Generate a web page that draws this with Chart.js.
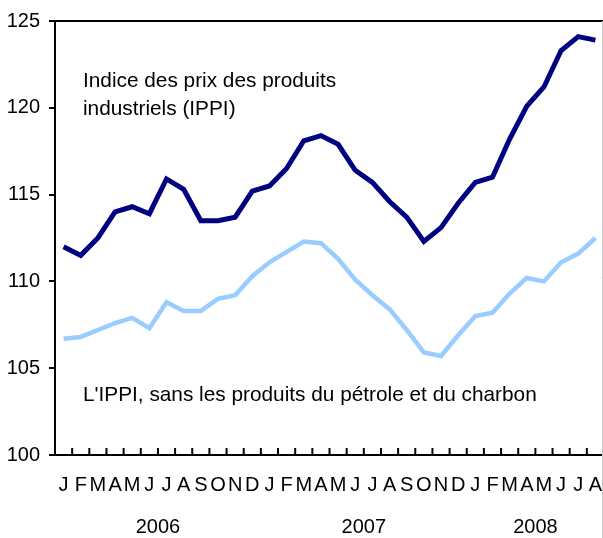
<!DOCTYPE html>
<html>
<head>
<meta charset="utf-8">
<script src="https://cdn.jsdelivr.net/npm/chart.js@4"></script>
<style>
  html, body { margin: 0; padding: 0; background: #fff; overflow: hidden; }
  #wrap { position: relative; width: 603px; height: 538px; overflow: hidden; }
  #chart { display: block; }
</style>
</head>
<body>
<div id="wrap"><canvas id="chart" width="606" height="538"></canvas></div>
<script>
// Mois (janv. 2006 à août 2008)
const months = ["J","F","M","A","M","J","J","A","S","O","N","D",
                "J","F","M","A","M","J","J","A","S","O","N","D",
                "J","F","M","A","M","J","J","A"];
const years = ["2006", "2007", "2008"];
const monthsPerYear = [12, 12, 8];

// IPPI
const ippi = [112.0, 111.5, 112.5, 114.0, 114.3, 113.9, 115.9, 115.3, 113.5, 113.5, 113.7, 115.2,
              115.5, 116.5, 118.1, 118.4, 117.9, 116.4, 115.7, 114.6, 113.7, 112.3, 113.1, 114.5,
              115.7, 116.0, 118.2, 120.1, 121.2, 123.3, 124.1, 123.9];
// IPPI sans pétrole et charbon
const ippiSansPetrole = [106.7, 106.8, 107.2, 107.6, 107.9, 107.3, 108.8, 108.3, 108.3, 109.0, 109.2, 110.3,
                         111.1, 111.7, 112.3, 112.2, 111.3, 110.1, 109.2, 108.4, 107.2, 105.9, 105.7, 106.9,
                         108.0, 108.2, 109.3, 110.2, 110.0, 111.1, 111.6, 112.5];
const yTicks = [100, 105, 110, 115, 120, 125];

const FONT = "'Liberation Sans', Arial, Helvetica, sans-serif";

// ticks vers l'intérieur, bordure du haut, années, libellés
const decor = {
  id: "decor",
  afterDraw(chart) {
    const ctx = chart.ctx;
    const x = chart.scales.x;
    const area = chart.chartArea;
    ctx.save();
    ctx.strokeStyle = "#000";
    ctx.lineWidth = 2;
    // bordure du haut
    ctx.beginPath();
    ctx.moveTo(area.left - 1, area.top);
    ctx.lineTo(area.right, area.top);
    ctx.stroke();
    // petits traits entre les mois
    for (let i = 1; i < months.length; i++) {
      const px = (x.getPixelForValue(i - 1) + x.getPixelForValue(i)) / 2;
      ctx.beginPath();
      ctx.moveTo(px, area.bottom);
      ctx.lineTo(px, area.bottom - 7);
      ctx.stroke();
    }
    // bord droit gris
    ctx.strokeStyle = "#c8c8c8";
    ctx.lineWidth = 1;
    ctx.beginPath();
    ctx.moveTo(602.5, area.top);
    ctx.lineTo(602.5, 538);
    ctx.stroke();

    ctx.fillStyle = "#000";
    ctx.textBaseline = "alphabetic";
    // années
    ctx.font = "20px " + FONT;
    ctx.textAlign = "center";
    let start = 0;
    years.forEach((y, k) => {
      const end = start + monthsPerYear[k] - 1;
      const cx = (x.getPixelForValue(start) + x.getPixelForValue(end)) / 2;
      ctx.fillText(y, cx, area.bottom + 78);
      start = end + 1;
    });
    // libellés des séries
    ctx.font = "20.8px " + FONT;
    ctx.textAlign = "left";
    ctx.fillText("Indice des prix des produits", area.left + 28, 87);
    ctx.fillText("industriels (IPPI)", area.left + 28, 115);
    ctx.fillText("L'IPPI, sans les produits du pétrole et du charbon", area.left + 28, 401);
    ctx.restore();
  }
};

new Chart(document.getElementById("chart"), {
  type: "line",
  data: {
    labels: months,
    datasets: [
      { label: "IPPI", data: ippi, borderColor: "#000080", borderWidth: 5,
        pointRadius: 0, tension: 0, borderJoinStyle: "miter" },
      { label: "IPPI sans pétrole et charbon", data: ippiSansPetrole, borderColor: "#99ccff", borderWidth: 4.5,
        pointRadius: 0, tension: 0, borderJoinStyle: "miter" }
    ]
  },
  options: {
    responsive: false,
    animation: false,
    layout: { padding: { top: 17, right: 2, left: 0, bottom: 0 } },
    plugins: { legend: { display: false }, tooltip: { enabled: false } },
    scales: {
      x: {
        offset: true,
        grid: { display: true, drawOnChartArea: false, drawTicks: false, offset: true },
        border: { color: "#000", width: 2 },
        ticks: { autoSkip: false, maxRotation: 0, color: "#000", padding: 18,
                 font: { family: FONT, size: 20 } },
        afterFit: s => { s.height = 83; s.paddingLeft = 0; s.paddingRight = 0; }
      },
      y: {
        min: 100, max: 125,
        afterBuildTicks: s => { s.ticks = yTicks.map(v => ({ value: v })); },
        grid: { drawOnChartArea: false, tickLength: 6, color: "#000", lineWidth: 2 },
        border: { color: "#000", width: 2 },
        ticks: { color: "#000", padding: 9, font: { family: FONT, size: 20 } },
        afterFit: s => { s.width = 55; }
      }
    }
  },
  plugins: [decor]
});
</script>
</body>
</html>
